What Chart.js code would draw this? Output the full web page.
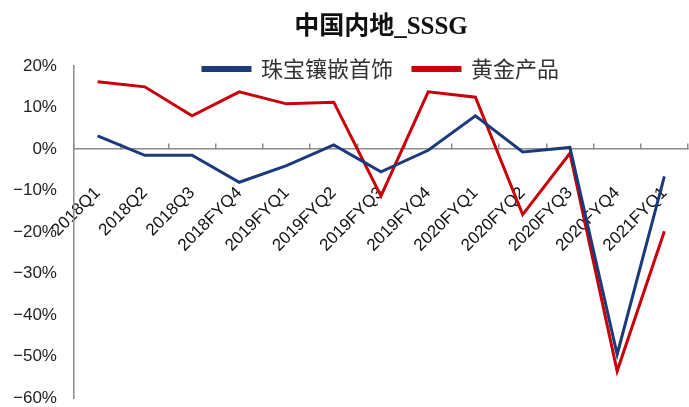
<!DOCTYPE html>
<html>
<head>
<meta charset="utf-8">
<script src="https://cdn.jsdelivr.net/npm/chart.js@4"></script>
<style>
  html, body { margin: 0; padding: 0; background: #fff; }
  #wrap { width: 689px; height: 407px; }
</style>
</head>
<body>
<div id="wrap"><canvas id="chart"></canvas></div>
<script>
// 中国内地 SSSG, quarterly, percent
const QUARTERS = ["2018Q1", "2018Q2", "2018Q3", "2018FYQ4", "2019FYQ1", "2019FYQ2", "2019FYQ3",
                  "2019FYQ4", "2020FYQ1", "2020FYQ2", "2020FYQ3", "2020FYQ4", "2021FYQ1"];
const JEWELLERY = [3.2, -1.5, -1.5, -8.0, -4.0, 1.0, -5.5, -0.3, 8.0, -0.7, 0.4, -49.5, -6.6];
const GOLD = [16.2, 15.0, 8.0, 13.8, 10.9, 11.3, -11.3, 13.8, 12.5, -15.8, -1.0, -53.5, -19.8];
const Y_MIN = -60, Y_MAX = 20, Y_STEP = 10;

const AXIS_GREY = "#8c8c8c";
const TICK_FONT = "'Liberation Sans', Arial, sans-serif";

// legend overlaps the top of the plot in the original, so push it down after layout
// (bottom too, otherwise the legend's own clip box cuts it off)
const legendNudge = {
  id: "legendNudge",
  afterLayout(chart) {
    const lg = chart.legend;
    if (!lg) return;
    lg.top += 24;
    lg.bottom += 24;
  },
};

new Chart(document.getElementById("chart"), {
  type: "line",
  data: {
    labels: QUARTERS,
    datasets: [
      { label: "珠宝镶嵌首饰", data: JEWELLERY, borderColor: "#1b3a7a", backgroundColor: "#1b3a7a",
        borderWidth: 3, pointRadius: 0, tension: 0 },
      { label: "黄金产品", data: GOLD, borderColor: "#c8000a", backgroundColor: "#c8000a",
        borderWidth: 3, pointRadius: 0, tension: 0 },
    ],
  },
  options: {
    responsive: true,
    maintainAspectRatio: false,
    animation: false,
    layout: { padding: { left: -4, right: 1, top: 0, bottom: 0 } },
    scales: {
      x: {
        position: { y: 0 },
        offset: true,
        grid: { display: true, drawOnChartArea: false, drawTicks: true, tickLength: -6,
                offset: true, color: AXIS_GREY, lineWidth: 1.5 },
        border: { display: true, color: AXIS_GREY, width: 1.5 },
        ticks: { autoSkip: false, minRotation: 45, maxRotation: 45, padding: 40, color: "#111",
                 font: { family: TICK_FONT, size: 17 } },
        afterFit: (scale) => { scale.paddingLeft = 0; scale.paddingRight = 0; },
      },
      y: {
        min: Y_MIN,
        max: Y_MAX,
        grid: { display: false, drawTicks: false },
        border: { display: true, color: AXIS_GREY, width: 1.5 },
        ticks: {
          stepSize: Y_STEP,
          padding: 17,
          color: "#222",
          font: { family: TICK_FONT, size: 17 },
          callback: (v) => `${v < 0 ? "\u2212" + Math.abs(v) : v}%`,
        },
        afterFit: (scale) => { scale.paddingBottom = 9; },
      },
    },
    plugins: {
      title: {
        display: true,
        fullSize: false,
        text: "中国内地_SSSG",
        color: "#111",
        font: { family: "'Liberation Serif', 'Noto Sans CJK SC', serif", size: 25, weight: "bold" },
        padding: { top: 13, bottom: -28.9 },
      },
      legend: {
        position: "top",
        align: "center",
        fullSize: false,
        labels: {
          boxWidth: 47,
          boxHeight: 3,
          padding: 20,
          color: "#333",
          font: { family: "'Noto Sans CJK SC', sans-serif", size: 22 },
        },
      },
      tooltip: { enabled: false },
    },
  },
  plugins: [legendNudge],
});
</script>
</body>
</html>
